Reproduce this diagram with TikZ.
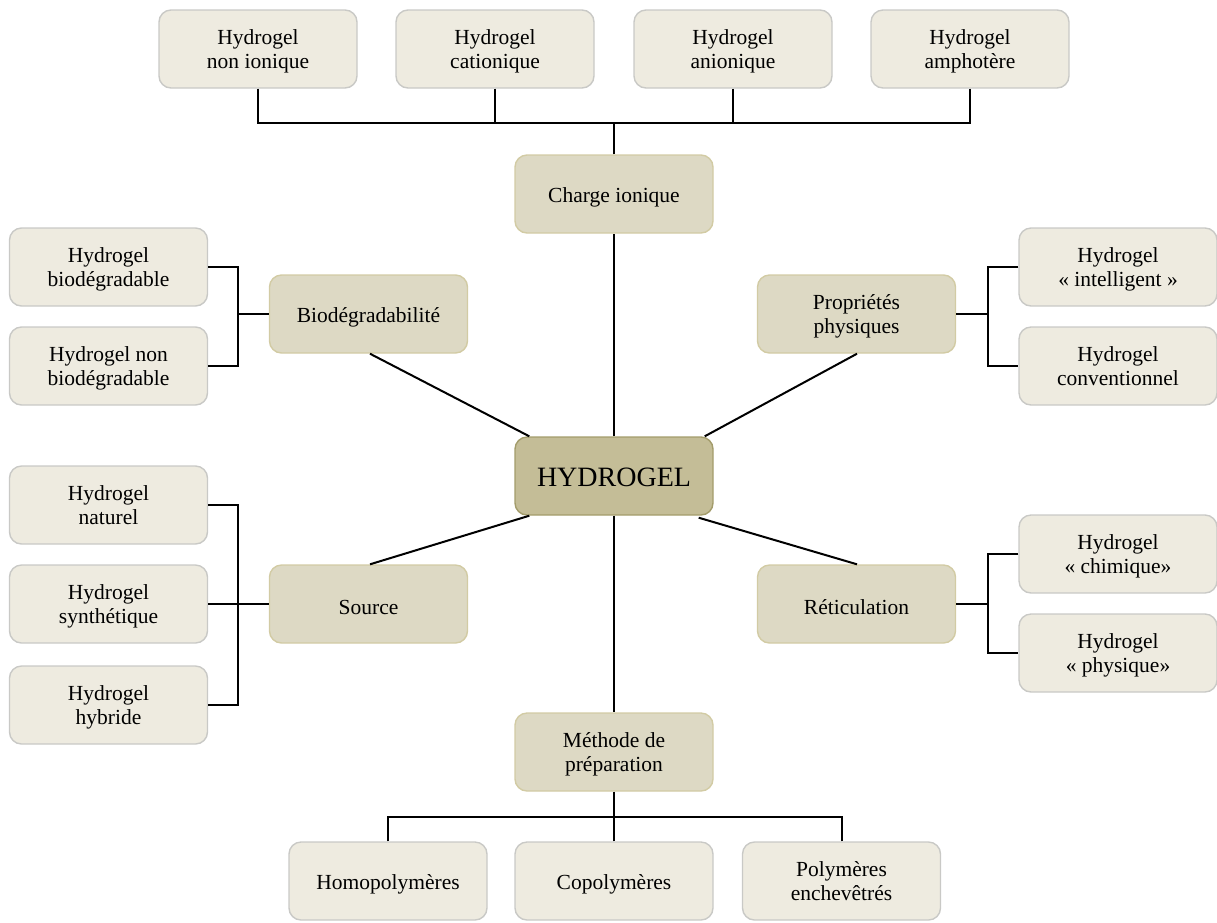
\documentclass[tikz,border=0pt]{standalone}
\usepackage{fontspec}
\setmainfont{Liberation Serif}
\usetikzlibrary{calc}
\definecolor{leaffill}{HTML}{EEEBE0}
\definecolor{leafdraw}{HTML}{C9C9C6}
\definecolor{catfill}{HTML}{DDD9C4}
\definecolor{catdraw}{HTML}{D2CBA4}
\definecolor{hubfill}{HTML}{C4BD97}
\definecolor{hubdraw}{HTML}{A39C6B}
\tikzset{
  box/.style={rounded corners=12pt, minimum width=198pt, minimum height=78pt, align=center, inner sep=2pt,
    line width=1.4pt, font=\fontsize{21.5}{24}\selectfont, text=black,
    execute at begin node={\rule{0pt}{21pt}}},
  twoline/.style={text depth=-2pt},
  leafbox/.style={box, fill=leaffill, draw=leafdraw},
  catbox/.style={box, fill=catfill, draw=catdraw},
  hubbox/.style={box, fill=hubfill, draw=hubdraw, font=\fontsize{28}{30}\selectfont},
  conn/.style={line width=2pt, black}
}
\begin{document}
\begin{tikzpicture}[x=1pt,y=-1pt]
\useasboundingbox (0,0) rectangle (1217,922);
% hub
\node[hubbox] (hyd) at (614,476) {HYDROGEL};
% categories
\node[catbox] (charge) at (614,194) {Charge ionique};
\node[catbox] (bio) at (368.5,314) {Biodégradabilité};
\node[catbox,twoline] (prop) at (856.5,314) {Propriétés\\physiques};
\node[catbox] (src) at (368.5,604) {Source};
\node[catbox] (ret) at (856.5,604) {Réticulation};
\node[catbox,twoline] (meth) at (614,752) {Méthode de\\préparation};
% top leaves
\node[leafbox,twoline] (t1) at (258,49) {Hydrogel\\non ionique};
\node[leafbox,twoline] (t2) at (495,49) {Hydrogel\\cationique};
\node[leafbox,twoline] (t3) at (733,49) {Hydrogel\\anionique};
\node[leafbox,twoline] (t4) at (970,49) {Hydrogel\\amphotère};
% left leaves (biodegradability)
\node[leafbox,twoline] (b1) at (108.5,267) {Hydrogel\\biodégradable};
\node[leafbox,twoline] (b2) at (108.5,366) {Hydrogel non\\biodégradable};
% right leaves (properties)
\node[leafbox,twoline] (p1) at (1118,267) {Hydrogel\\« intelligent »};
\node[leafbox,twoline] (p2) at (1118,366) {Hydrogel\\conventionnel};
% left leaves (source)
\node[leafbox,twoline] (s1) at (108.5,505) {Hydrogel\\naturel};
\node[leafbox,twoline] (s2) at (108.5,604) {Hydrogel\\synthétique};
\node[leafbox,twoline] (s3) at (108.5,705) {Hydrogel\\hybride};
% right leaves (crosslinking)
\node[leafbox,twoline] (r1) at (1118,554) {Hydrogel\\« chimique»};
\node[leafbox,twoline] (r2) at (1118,653) {Hydrogel\\« physique»};
% bottom leaves
\node[leafbox] (m1) at (388,881) {Homopolymères};
\node[leafbox] (m2) at (614,881) {Copolymères};
\node[leafbox,twoline] (m3) at (841.5,881) {Polymères\\enchevêtrés};
% junction coordinates
\coordinate (topbus) at (614,123);
\coordinate (botbus) at (614,817);
\coordinate (bioj) at (238,314);
\coordinate (propj) at (988,314);
\coordinate (srcj) at (238,604);
\coordinate (retj) at (988,604);
% hub spokes
\draw[conn] (hyd.north) -- (charge.south);
\draw[conn] (hyd.south) -- (meth.north);
\draw[conn] ($(hyd.north west)+(15,0)$) -- ($(bio.south)+(1.5,0)$);
\draw[conn] ($(hyd.north east)+(-9,0)$) -- ($(prop.south)+(0.5,0)$);
\draw[conn] ($(hyd.south west)+(15,0)$) -- ($(src.north)+(1.5,0)$);
\draw[conn] ($(hyd.south east)+(-15,2)$) -- ($(ret.north)+(0.5,0)$);
% top bus
\draw[conn] (charge.north) -- (topbus);
\draw[conn] (t1.south) |- (topbus);
\draw[conn] (t4.south) |- (topbus);
\draw[conn] (t2.south) -- (t2.south |- topbus);
\draw[conn] (t3.south) -- (t3.south |- topbus);
% bottom bus
\draw[conn] (meth.south) -- (botbus);
\draw[conn] (m1.north) |- (botbus);
\draw[conn] (m3.north) |- (botbus);
\draw[conn] (m2.north) -- (m2.north |- botbus);
% brackets
\draw[conn] (bio.west) -- (bioj);
\draw[conn] (b1.east) -| (bioj) |- (b2.east);
\draw[conn] (prop.east) -- (propj);
\draw[conn] (p1.west) -| (propj) |- (p2.west);
\draw[conn] (src.west) -- (srcj);
\draw[conn] (s1.east) -| (srcj) |- (s3.east);
\draw[conn] (s2.east) -- (srcj);
\draw[conn] (ret.east) -- (retj);
\draw[conn] (r1.west) -| (retj) |- (r2.west);
\end{tikzpicture}
\end{document}
